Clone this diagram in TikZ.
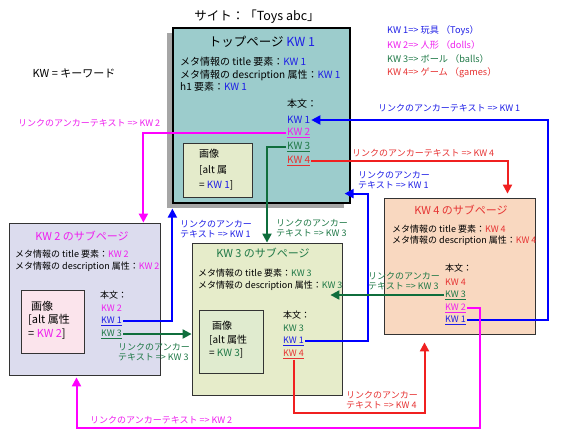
\documentclass[tikz,border=0pt]{standalone}
\usepackage{fontspec}
\setmainfont{Noto Sans CJK JP}
\usetikzlibrary{arrows.meta, shadows}
\definecolor{kwblue}{HTML}{1E1EE6}
\definecolor{kwpink}{HTML}{EE1EEE}
\definecolor{kwgreen}{HTML}{1E7846}
\definecolor{kwred}{HTML}{E63232}
\definecolor{lnblue}{HTML}{0000FF}
\definecolor{lnpink}{HTML}{FF00FF}
\definecolor{lngreen}{HTML}{0F6E3C}
\definecolor{lnred}{HTML}{F02020}
\definecolor{topfill}{HTML}{9CCCCC}
\definecolor{twofill}{HTML}{DCDCEE}
\definecolor{threefill}{HTML}{E6ECCA}
\definecolor{fourfill}{HTML}{F9D8C0}
\definecolor{imgone}{HTML}{E4EBCB}
\definecolor{imgtwo}{HTML}{FBE4EC}
\definecolor{imgthree}{HTML}{E0EBCF}

\begin{document}
\begin{tikzpicture}[x=1pt, y=-1pt]

\tikzset{page/.style = {draw=black!80, line width=0.8pt, inner sep=0pt}}
\tikzset{txt/.style = {anchor=west, inner sep=1pt, font=\fontsize{9}{10}\selectfont}}
\tikzset{bigtxt/.style = {txt, font=\fontsize{10}{11}\selectfont}}
\tikzset{head/.style = {inner sep=1pt, font=\fontsize{11}{12}\selectfont}}
\tikzset{note/.style = {anchor=west, align=left, inner sep=1pt, font=\fontsize{9}{10.5}\selectfont}}
\tikzset{link/.style = {line width=2pt, -{Triangle[width=9pt,length=9pt]}}}
\useasboundingbox (0,0) rectangle (570,439);

%title and legend
\node[font=\fontsize{12.5}{14}\selectfont] (site) at (257,17) {サイト：「Toys abc」};
\node[font=\fontsize{11}{12}\selectfont] (kw) at (74,73) {KW = キーワード};
\node[txt, font=\fontsize{9.2}{11}\selectfont, text=kwblue] (leg1) at (386,31) {KW 1=> 玩具 （Toys）};
\node[txt, font=\fontsize{9.2}{11}\selectfont, text=kwpink] (leg2) at (386,45) {KW 2=> 人形 （dolls）};
\node[txt, font=\fontsize{9.2}{11}\selectfont, text=kwgreen] (leg3) at (386,59) {KW 3=> ボール （balls）};
\node[txt, font=\fontsize{9.2}{11}\selectfont, text=kwred] (leg4) at (386,73) {KW 4=> ゲーム （games）};

%pages
\node[page, draw=black, line width=1.2pt, fill=topfill, minimum width=177, minimum height=175,
  drop shadow={shadow xshift=-6pt, shadow yshift=-5pt, fill=black!35, opacity=1}] (top) at (261.5,115.5) {};
\node[page, fill=twofill, minimum width=151, minimum height=152] (sub2) at (84.5,299) {};
\node[page, fill=threefill, minimum width=150, minimum height=152] (sub3) at (267,319) {};
\node[page, fill=fourfill, minimum width=151, minimum height=136] (sub4) at (459.5,266) {};
\node[page, fill=imgone, minimum width=69, minimum height=54] (img1) at (217.5,170) {};
\node[page, fill=imgtwo, minimum width=63, minimum height=63] (img2) at (52.5,321.5) {};
\node[page, fill=imgthree, minimum width=64, minimum height=63] (img3) at (231,341.5) {};

%top page
\node[head, font=\fontsize{12.5}{14}\selectfont] (toph) at (262,42) {トップページ \textcolor{kwblue}{KW 1}};
\node[bigtxt] (tm1) at (179,62) {メタ情報の title 要素：\textcolor{kwblue}{KW 1}};
\node[bigtxt] (tm2) at (179,75) {メタ情報の description 属性：\textcolor{kwblue}{KW 1}};
\node[bigtxt] (tm3) at (179,87) {h1 要素：\textcolor{kwblue}{KW 1}};
\node[bigtxt] (tb) at (286,104) {本文：};
\node[bigtxt, text=kwblue] (t1) at (286,120) {KW 1};
\node[bigtxt, text=kwpink] (t2) at (286,133) {\underline{KW 2}};
\node[bigtxt, text=kwgreen] (t3) at (286,147) {\underline{KW 3}};
\node[bigtxt, text=kwred] (t4) at (286,161) {\underline{KW 4}};
\node[txt, align=left, anchor=north west, font=\fontsize{10}{15.5}\selectfont] (ti) at (198,148) {画像\\{[}alt 属\\= \textcolor{kwblue}{KW 1}]};

%KW 2 page
\node[head, text=kwpink] (sub2h) at (82,236) {KW 2 のサブページ};
\node[txt] (lm1) at (14,254) {メタ情報の title 要素：\textcolor{kwpink}{KW 2}};
\node[txt] (lm2) at (14,267) {メタ情報の description 属性：\textcolor{kwpink}{KW 2}};
\node[txt] (lb) at (99,295) {本文：};
\node[txt, text=kwpink] (l2) at (100,308) {KW 2};
\node[txt, text=kwblue] (l1) at (100,321) {\underline{KW 1}};
\node[txt, text=kwgreen] (l3) at (100,334) {\underline{KW 3}};
\node[txt, align=left, anchor=north west, font=\fontsize{11}{13.5}\selectfont] (li) at (27,300) {\hspace*{3pt}画像\\{[}alt 属性\\= \textcolor{kwpink}{KW 2}]};

%KW 3 page
\node[head, text=kwgreen] (sub3h) at (263,253) {KW 3 のサブページ};
\node[txt] (cm1) at (197,273) {メタ情報の title 要素：\textcolor{kwgreen}{KW 3}};
\node[txt] (cm2) at (197,286) {メタ情報の description 属性：\textcolor{kwgreen}{KW 3}};
\node[txt] (cb) at (282,315) {本文：};
\node[txt, text=kwgreen] (c3) at (282,328) {KW 3};
\node[txt, text=kwblue] (c1) at (282,341) {\underline{KW 1}};
\node[txt, text=kwred] (c4) at (282,354) {\underline{KW 4}};
\node[txt, align=left, anchor=north west, font=\fontsize{10}{13.5}\selectfont] (ci) at (208,320) {\hspace*{3pt}画像\\{[}alt 属性\\= \textcolor{kwgreen}{KW 3}]};

%KW 4 page
\node[head, text=kwred] (sub4h) at (461,210) {KW 4 のサブページ};
\node[txt] (rm1) at (391,229) {メタ情報の title 要素：\textcolor{kwred}{KW 4}};
\node[txt] (rm2) at (391,241) {メタ情報の description 属性：\textcolor{kwred}{KW 4}};
\node[txt] (rb) at (444,268) {本文：};
\node[txt, text=kwred] (r4) at (444,282) {KW 4};
\node[txt, text=kwgreen] (r3) at (444,295) {\underline{KW 3}};
\node[txt, text=kwpink] (r2) at (444,308) {\underline{KW 2}};
\node[txt, text=kwblue] (r1) at (444,320) {\underline{KW 1}};

%links
\coordinate (b1) at ([xshift=-6pt,yshift=10pt]top.south east);
\coordinate (g3) at ([xshift=-12pt]sub3.east);
\draw[link, lnblue] (r1.east) -- ++(81,0) |- (t1.east);
\draw[link, lnpink] (t2.west) -| ([xshift=-17pt]sub2.north east);
\draw[link, lngreen] (t3.west) -| (sub3.north);
\draw[link, lnred] (t4.east) -| ([xshift=48pt,yshift=4pt]sub4.north);
\draw[link, lnblue] (c1.east) -| ([xshift=23pt]b1) -- (b1);
\draw[link, lnblue] (l1.east) -| ([yshift=-5pt]top.south west);
\draw[link, lngreen] (l3.east) -- (l3.east -| sub3.west);
\draw[link, lngreen] (r3.west) -- (r3.west -| g3);
\draw[link, lnred] (c4.south) -- ++(0,53) -| ([xshift=-35pt,yshift=-8pt]sub4.south);
\draw[link, lnpink] (r2.east) -- ++(13,0) -- ++(0,120) -| ([xshift=-8pt,yshift=-2pt]sub2.south);

%anchor texts
\node[note, text=kwblue] (n1) at (377,108) {リンクのアンカーテキスト => KW 1};
\node[note, text=kwpink] (n2) at (17,123) {リンクのアンカーテキスト => KW 2};
\node[note, text=kwgreen] (n3) at (275,228) {リンクのアンカー\\テキスト => KW 3};
\node[note, text=kwred] (n4) at (351,153) {リンクのアンカーテキスト => KW 4};
\node[note, text=kwblue] (n5) at (357,180) {リンクのアンカー\\テキスト => KW 1};
\node[note, text=kwblue] (n6) at (179,229) {リンクのアンカー\\テキスト => KW 1};
\node[note, text=kwgreen] (n7) at (117,352) {リンクのアンカー\\テキスト => KW 3};
\node[note, text=kwgreen] (n8) at (367,281) {リンクのアンカー\\テキスト => KW 3};
\node[note, text=kwred] (n9) at (345,400) {リンクのアンカー\\テキスト => KW 4};
\node[note, text=kwpink] (n10) at (89,420) {リンクのアンカーテキスト => KW 2};

\end{tikzpicture}
\end{document}
